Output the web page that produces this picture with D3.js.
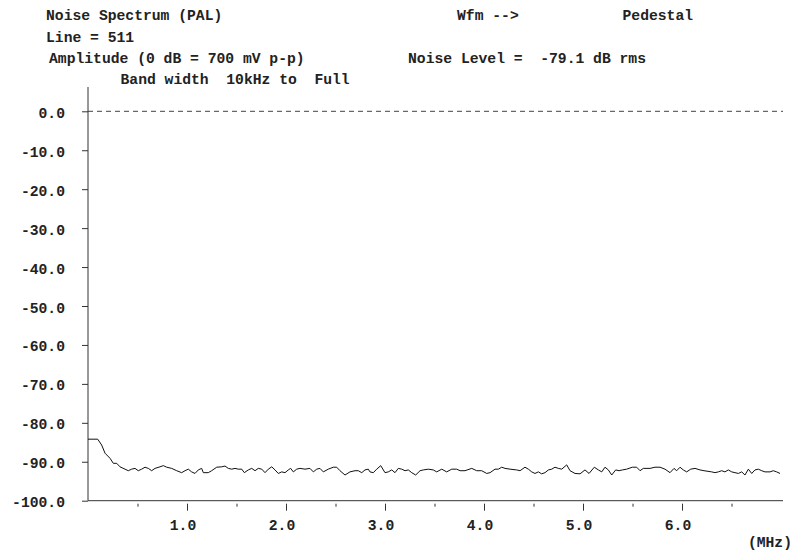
<!DOCTYPE html>
<html>
<head>
<meta charset="utf-8">
<script src="https://cdn.jsdelivr.net/npm/d3@7"></script>
<style>
  body { margin: 0; background: #fff; }
  text { font-family: "Liberation Mono", "Courier New", monospace; font-weight: bold; font-size: 14.7px; fill: #222; }
</style>
</head>
<body>
<div id="chart"></div>
<script>
// header lines of the analyser printout
const headerLines = [
  { text: "Noise Spectrum (PAL)", x: 46, y: 19.5 },
  { text: "Wfm -->", x: 457, y: 19.5 },
  { text: "Pedestal", x: 622.5, y: 19.5 },
  { text: "Line = 511", x: 46, y: 41.5 },
  { text: "Amplitude (0 dB = 700 mV p-p)", x: 49, y: 63 },
  { text: "Noise Level =  -79.1 dB rms", x: 408, y: 63 },
  { text: "Band width  10kHz to  Full", x: 120.5, y: 84 }
];

// frequency (MHz) and noise level (dB)
const freq = [
  0, 0.098, 0.138, 0.172, 0.222, 0.256, 0.290, 0.323, 0.374, 0.407,
  0.441, 0.475, 0.508, 0.542, 0.576, 0.609, 0.643, 0.677, 0.727, 0.761,
  0.795, 0.845, 0.896, 0.946, 0.980, 1.013, 1.047, 1.081, 1.114, 1.148,
  1.165, 1.215, 1.249, 1.300, 1.351, 1.384, 1.417, 1.452, 1.485, 1.518,
  1.553, 1.579, 1.619, 1.654, 1.687, 1.720, 1.755, 1.788, 1.821, 1.856,
  1.889, 1.922, 1.957, 1.990, 2.023, 2.047, 2.074, 2.108, 2.141, 2.192,
  2.242, 2.276, 2.310, 2.343, 2.377, 2.427, 2.478, 2.512, 2.545, 2.596,
  2.646, 2.697, 2.730, 2.765, 2.798, 2.831, 2.848, 2.882, 2.916, 2.957,
  3.000, 3.033, 3.068, 3.101, 3.134, 3.169, 3.202, 3.235, 3.270, 3.310,
  3.354, 3.387, 3.437, 3.488, 3.522, 3.573, 3.623, 3.674, 3.724, 3.758,
  3.808, 3.876, 3.926, 3.977, 4.027, 4.061, 4.111, 4.145, 4.179, 4.212,
  4.263, 4.330, 4.364, 4.414, 4.448, 4.482, 4.515, 4.549, 4.582, 4.616,
  4.650, 4.684, 4.717, 4.751, 4.785, 4.835, 4.869, 4.919, 4.970, 5.020,
  5.061, 5.114, 5.155, 5.189, 5.222, 5.256, 5.290, 5.330, 5.364, 5.397,
  5.441, 5.498, 5.542, 5.576, 5.609, 5.677, 5.727, 5.778, 5.828, 5.879,
  5.919, 5.946, 5.980, 6.013, 6.047, 6.088, 6.131, 6.182, 6.222, 6.300,
  6.333, 6.367, 6.401, 6.434, 6.468, 6.502, 6.535, 6.569, 6.603, 6.636,
  6.670, 6.704, 6.737, 6.771, 6.805, 6.838, 6.889, 6.922, 6.956, 6.990
];
const level = [
  -84.2, -84.2, -85.7, -87.8, -89.1, -90.4, -90.4, -91.3, -91.9, -92.3,
  -91.9, -91.7, -92.3, -91.9, -91.4, -91.7, -92.3, -91.7, -91.3, -91.0,
  -91.4, -91.7, -92.3, -92.8, -92.3, -91.9, -92.6, -93.0, -92.1, -91.7,
  -92.8, -92.8, -92.3, -91.4, -91.3, -91.1, -91.7, -91.9, -91.7, -91.9,
  -91.9, -92.8, -92.1, -91.7, -92.3, -91.7, -91.9, -92.8, -91.9, -91.3,
  -92.1, -93.0, -92.6, -92.8, -92.1, -91.7, -92.6, -91.9, -91.7, -91.9,
  -91.7, -92.6, -91.9, -91.7, -92.6, -91.9, -91.4, -91.4, -92.3, -93.4,
  -92.6, -92.3, -92.3, -92.8, -92.1, -91.9, -92.6, -92.8, -91.9, -91.0,
  -92.8, -92.6, -92.1, -92.8, -91.7, -91.9, -92.3, -92.1, -92.8, -93.4,
  -92.3, -92.1, -91.9, -92.1, -92.6, -91.9, -92.6, -91.9, -91.9, -92.3,
  -92.3, -91.7, -92.3, -92.3, -93.0, -92.8, -91.9, -91.9, -91.4, -91.7,
  -91.9, -92.1, -92.3, -91.4, -91.9, -92.6, -93.0, -92.6, -93.1, -92.8,
  -92.1, -91.9, -91.4, -91.7, -91.9, -90.8, -92.3, -93.0, -93.1, -92.1,
  -93.0, -91.4, -92.1, -92.6, -91.4, -92.1, -93.4, -92.1, -92.3, -92.1,
  -91.9, -91.4, -91.4, -92.3, -91.7, -91.7, -91.4, -91.4, -91.9, -92.8,
  -91.7, -92.3, -91.4, -92.1, -92.6, -91.9, -91.7, -92.1, -92.3, -92.6,
  -92.8, -92.6, -92.3, -92.6, -92.1, -92.6, -92.8, -93.0, -92.6, -93.4,
  -91.9, -93.0, -92.1, -91.9, -92.3, -92.6, -92.6, -92.3, -92.6, -93.0
];

const yTicks = [0, -10, -20, -30, -40, -50, -60, -70, -80, -90, -100];
const xMajor = [1, 2, 3, 4, 5, 6];
const xMinor = [0.5, 1.5, 2.5, 3.5, 4.5, 5.5, 6.5];
const xUnit = "(MHz)";

const width = 796, height = 554;
const plot = { left: 88, right: 783, top: 87, zero: 111.3, bottom: 500.7 };
const axisColor = "#333";

const svg = d3.select("#chart").append("svg")
  .attr("width", width)
  .attr("height", height);

const x = d3.scaleLinear().domain([0, 7.02]).range([plot.left, plot.right]);
const y = d3.scaleLinear().domain([-100, 0]).range([plot.bottom, plot.zero]);

// header texts
svg.selectAll(".hdr")
  .data(headerLines)
  .join("text")
  .attr("class", "hdr")
  .attr("x", d => d.x)
  .attr("y", d => d.y)
  .attr("xml:space", "preserve")
  .style("white-space", "pre")
  .text(d => d.text);

// 0 dB reference line
svg.append("line")
  .attr("x1", plot.left).attr("x2", plot.right)
  .attr("y1", y(0)).attr("y2", y(0))
  .attr("stroke", "#444")
  .attr("stroke-dasharray", "5,4");

// Y axis
const yAxis = svg.append("g")
  .attr("transform", `translate(${plot.left},0)`)
  .call(d3.axisLeft(y).tickValues(yTicks).tickSize(6).tickSizeOuter(0)
    .tickFormat(d => d.toFixed(1)));
yAxis.select(".domain").remove();
yAxis.selectAll("line").attr("stroke", axisColor);
yAxis.selectAll("text")
  .attr("x", -23).attr("dy", 0).attr("y", 6)
  .attr("fill", "#222")
  .style("font-size", null).style("font-family", null);
yAxis.attr("font-size", null).attr("font-family", null);

svg.append("line")
  .attr("x1", plot.left).attr("x2", plot.left)
  .attr("y1", plot.top).attr("y2", plot.bottom)
  .attr("stroke", axisColor);

// X axis
svg.append("line")
  .attr("x1", plot.left).attr("x2", plot.right)
  .attr("y1", plot.bottom).attr("y2", plot.bottom)
  .attr("stroke", axisColor);

const xAxis = svg.append("g")
  .attr("transform", `translate(0,${plot.bottom})`)
  .call(d3.axisBottom(x).tickValues(xMajor).tickSize(10).tickSizeOuter(0)
    .tickFormat(d => d.toFixed(1)));
xAxis.select(".domain").remove();
xAxis.attr("font-size", null).attr("font-family", null);
xAxis.selectAll("line").attr("y1", 3).attr("stroke", axisColor);
xAxis.selectAll("text")
  .attr("y", 29.5).attr("dy", 0).attr("dx", -4.5)
  .attr("fill", "#222");

const xMinorAxis = svg.append("g")
  .attr("transform", `translate(0,${plot.bottom})`)
  .call(d3.axisBottom(x).tickValues(xMinor).tickSize(6).tickSizeOuter(0).tickFormat(""));
xMinorAxis.select(".domain").remove();
xMinorAxis.selectAll("line").attr("y1", 3).attr("stroke", axisColor);

svg.append("text")
  .attr("x", 792)
  .attr("y", 547)
  .attr("text-anchor", "end")
  .text(xUnit);

// noise trace
const line = d3.line()
  .x((d, i) => x(freq[i]))
  .y(d => y(d));

svg.append("path")
  .datum(level)
  .attr("fill", "none")
  .attr("stroke", "#111")
  .attr("stroke-width", 1)
  .attr("d", line);
</script>
</body>
</html>
